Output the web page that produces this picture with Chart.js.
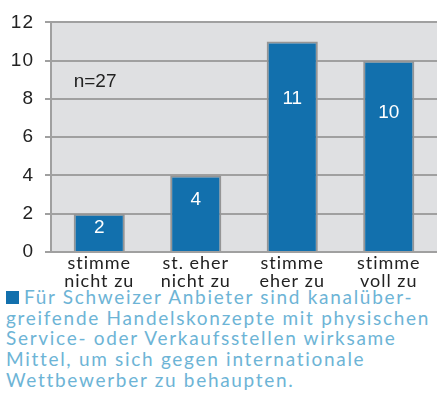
<!DOCTYPE html>
<html>
<head>
<meta charset="utf-8">
<script src="https://cdn.jsdelivr.net/npm/chart.js@4/dist/chart.umd.min.js"></script>
<style>
  body { margin: 0; background: #fff; width: 437px; height: 414px; overflow: hidden; }
  #wrap { position: relative; width: 437px; height: 292px; }
  #legend {
    margin: -5px 0 0 6px;
    font-family: Lato, "Open Sans", sans-serif;
    font-size: 19px;
    letter-spacing: 1.7px;
    line-height: 20.7px;
    color: #6db4d6;
    white-space: nowrap;
  }
  #legend .sq { display: inline-block; width: 13px; height: 13px; background: #1270ad; margin-right: 5px; }
</style>
</head>
<body>
<div id="wrap"><canvas id="c"></canvas></div>
<div id="legend"></div>
<script>
/* categories and values */
const categories = [["stimme", "nicht zu"], ["st. eher", "nicht zu"], ["stimme", "eher zu"], ["stimme", "voll zu"]];
const values = [2, 4, 11, 10];
const yTicks = [0, 2, 4, 6, 8, 10, 12];
const seriesName = ["Für Schweizer Anbieter sind kanalüber-", "greifende Handelskonzepte mit physischen", "Service- oder Verkaufsstellen wirksame", "Mittel, um sich gegen internationale", "Wettbewerber zu behaupten."];
const sampleNote = "n=27";

/* legend below chart */
document.getElementById("legend").innerHTML =
    '<span class="sq"></span>' + seriesName.join("<br>");

/* grey plot background, spaced-out axis text */
const plotBg = {
    id: "plotBg",
    beforeDraw(chart) {
        const a = chart.chartArea, ctx = chart.ctx;
        ctx.save();
        ctx.fillStyle = "#dfe0e2";
        ctx.fillRect(a.left, a.top, a.right - a.left, a.bottom - a.top);
        ctx.restore();
        ctx.letterSpacing = "1px";
    },
    beforeDatasetsDraw(chart) {
        chart.ctx.letterSpacing = "0px";
    }
};

/* value labels in bars + n note */
const labels = {
    id: "labels",
    afterDatasetsDraw(chart) {
        const ctx = chart.ctx;
        const meta = chart.getDatasetMeta(0);
        ctx.save();
        ctx.font = "19px 'Liberation Sans', Arial, sans-serif";
        ctx.fillStyle = "#fff";
        ctx.textAlign = "center";
        ctx.textBaseline = "middle";
        meta.data.forEach((bar, i) => {
            const h = bar.base - bar.y;
            ctx.fillText(String(values[i]), bar.x, bar.y + h * 0.25 + 5);
        });
        ctx.fillStyle = "#222";
        ctx.textAlign = "left";
        const first = meta.data[0];
        ctx.fillText(sampleNote, first.x - first.width / 2, chart.scales.y.getPixelForValue(8.9));
        ctx.restore();
    }
};

new Chart(document.getElementById("c"), {
    type: "bar",
    data: {
        labels: categories,
        datasets: [{
            data: values,
            backgroundColor: "#1270ad",
            borderColor: "#959595",
            borderWidth: 2,
            borderSkipped: "bottom",
            barPercentage: 0.53,
            categoryPercentage: 1
        }]
    },
    plugins: [plotBg, labels],
    options: {
        responsive: true,
        maintainAspectRatio: false,
        animation: false,
        layout: { padding: { top: 14, right: 0, left: 0, bottom: 0 } },
        plugins: { legend: { display: false }, tooltip: { enabled: false } },
        scales: {
            x: {
                grid: { display: false, drawTicks: false },
                border: { color: "#a0a0a0", width: 2 },
                ticks: {
                    color: "#222",
                    padding: 2,
                    font: { family: "Lato, 'Open Sans', sans-serif", size: 18, lineHeight: 1.0 },
                    maxRotation: 0
                }
            },
            y: {
                min: 0,
                max: 12,
                afterBuildTicks: s => { s.ticks = yTicks.map(v => ({ value: v })); },
                afterFit: s => { s.width = 51; },
                grid: { color: "#a0a0a0", lineWidth: 2, tickLength: 6 },
                border: { color: "#a0a0a0", width: 2 },
                ticks: {
                    color: "#222",
                    padding: 11,
                    font: { family: "'Liberation Sans', Arial, sans-serif", size: 19 }
                }
            }
        }
    }
});
</script>
</body>
</html>
